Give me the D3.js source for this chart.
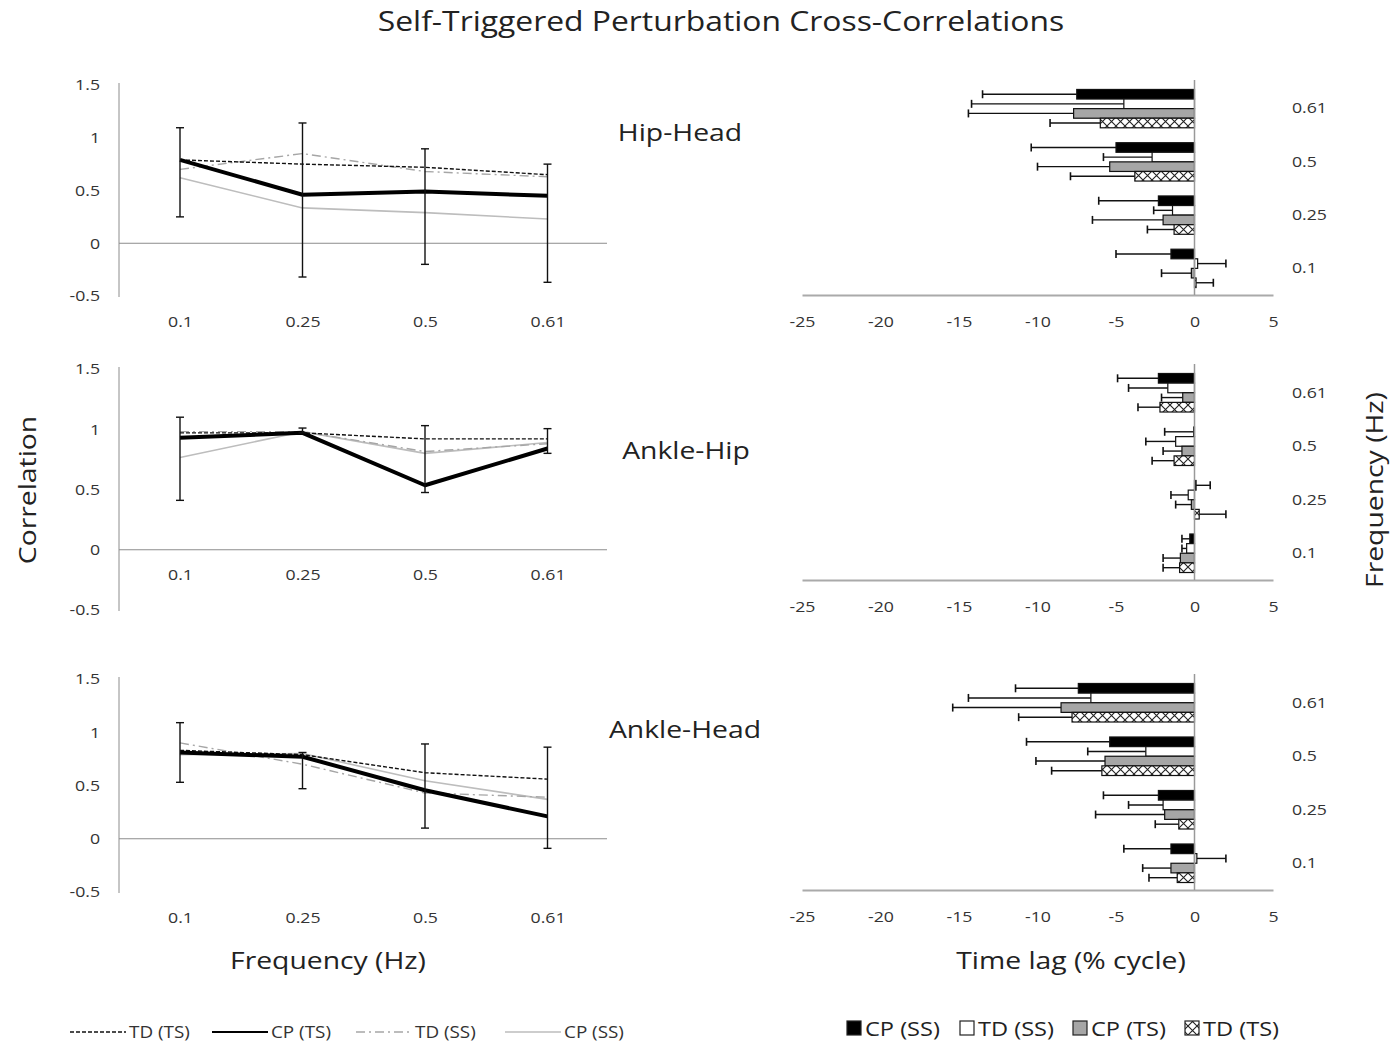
<!DOCTYPE html>
<html>
<head>
<meta charset="utf-8">
<script src="https://cdn.jsdelivr.net/npm/d3@7"></script>
<style>
  body { margin: 0; background: #fff; }
  svg { display: block; font-family: "Open Sans", Lato, "Liberation Sans", sans-serif; }
</style>
</head>
<body>
<svg id="chart" width="1393" height="1047"></svg>
<script>
// ---------- DATA ----------
const freqCats = ["0.1", "0.25", "0.5", "0.61"];
const corrTicks = [-0.5, 0, 0.5, 1, 1.5];
const lagTicks = [-25, -20, -15, -10, -5, 0, 5];
const pairNames = ["Hip-Head", "Ankle-Hip", "Ankle-Head"];
const lineSeriesNames = ["TD (TS)", "CP (TS)", "TD (SS)", "CP (SS)"];
const barSeriesNames = ["CP (SS)", "TD (SS)", "CP (TS)", "TD (TS)"];

// Correlations (line charts), per frequency 0.1, 0.25, 0.5, 0.61
const hipHeadTDTS = [0.79, 0.75, 0.72, 0.65];
const hipHeadCPTS = [0.79, 0.46, 0.49, 0.45];
const hipHeadTDSS = [0.70, 0.85, 0.68, 0.63];
const hipHeadCPSS = [0.62, 0.335, 0.29, 0.23];
const hipHeadErrHi = [1.095, 1.14, 0.895, 0.75];
const hipHeadErrLo = [0.25, -0.32, -0.2, -0.37];

const ankleHipTDTS = [0.97, 0.97, 0.92, 0.92];
const ankleHipCPTS = [0.93, 0.97, 0.535, 0.84];
const ankleHipTDSS = [0.98, 0.98, 0.815, 0.88];
const ankleHipCPSS = [0.765, 0.98, 0.80, 0.89];
const ankleHipErrHi = [1.10, 1.01, 1.03, 1.005];
const ankleHipErrLo = [0.41, 0.97, 0.475, 0.80];

const ankleHeadTDTS = [0.83, 0.79, 0.62, 0.56];
const ankleHeadCPTS = [0.81, 0.77, 0.455, 0.21];
const ankleHeadTDSS = [0.90, 0.70, 0.43, 0.39];
const ankleHeadCPSS = [0.79, 0.80, 0.545, 0.37];
const ankleHeadErrHi = [1.09, 0.81, 0.89, 0.86];
const ankleHeadErrLo = [0.53, 0.47, 0.10, -0.09];

// Time lags (bar charts, % cycle), per frequency 0.1, 0.25, 0.5, 0.61
const hipHeadLagCPSS = [-1.5, -2.3, -5.0, -7.5];
const hipHeadLagTDSS = [0.2, -1.4, -2.7, -4.5];
const hipHeadLagCPTS = [-0.2, -2.0, -5.4, -7.7];
const hipHeadLagTDTS = [0.1, -1.3, -3.8, -6.0];
const hipHeadLagErrCPSS = [3.5, 3.8, 5.4, 6.0];
const hipHeadLagErrTDSS = [1.8, 1.2, 3.1, 9.7];
const hipHeadLagErrCPTS = [1.9, 4.5, 4.6, 6.7];
const hipHeadLagErrTDTS = [1.1, 1.7, 4.1, 3.2];

const ankleHipLagCPSS = [-0.3, 0.1, -0.05, -2.3];
const ankleHipLagTDSS = [-0.5, -0.4, -1.2, -1.7];
const ankleHipLagCPTS = [-0.9, -0.2, -0.8, -0.75];
const ankleHipLagTDTS = [-0.95, 0.3, -1.3, -2.2];
const ankleHipLagErrCPSS = [0.5, 0.9, 1.85, 2.6];
const ankleHipLagErrTDSS = [0.3, 1.1, 1.9, 2.5];
const ankleHipLagErrCPTS = [1.1, 1.0, 1.2, 1.35];
const ankleHipLagErrTDTS = [1.05, 1.7, 1.4, 1.4];

const ankleHeadLagCPSS = [-1.5, -2.3, -5.4, -7.4];
const ankleHeadLagTDSS = [0.15, -2.0, -3.1, -6.6];
const ankleHeadLagCPTS = [-1.5, -1.9, -5.7, -8.5];
const ankleHeadLagTDTS = [-1.1, -1.0, -5.9, -7.8];
const ankleHeadLagErrCPSS = [3.0, 3.5, 5.3, 4.0];
const ankleHeadLagErrTDSS = [1.85, 2.2, 3.7, 7.8];
const ankleHeadLagErrCPTS = [1.8, 4.4, 4.4, 6.9];
const ankleHeadLagErrTDTS = [1.8, 1.5, 3.2, 3.4];

// ---------- ASSEMBLY ----------
const lineData = [
  { lines: [hipHeadTDTS, hipHeadCPTS, hipHeadTDSS, hipHeadCPSS], hi: hipHeadErrHi, lo: hipHeadErrLo },
  { lines: [ankleHipTDTS, ankleHipCPTS, ankleHipTDSS, ankleHipCPSS], hi: ankleHipErrHi, lo: ankleHipErrLo },
  { lines: [ankleHeadTDTS, ankleHeadCPTS, ankleHeadTDSS, ankleHeadCPSS], hi: ankleHeadErrHi, lo: ankleHeadErrLo }
];
const barData = [
  { vals: [hipHeadLagCPSS, hipHeadLagTDSS, hipHeadLagCPTS, hipHeadLagTDTS],
    errs: [hipHeadLagErrCPSS, hipHeadLagErrTDSS, hipHeadLagErrCPTS, hipHeadLagErrTDTS] },
  { vals: [ankleHipLagCPSS, ankleHipLagTDSS, ankleHipLagCPTS, ankleHipLagTDTS],
    errs: [ankleHipLagErrCPSS, ankleHipLagErrTDSS, ankleHipLagErrCPTS, ankleHipLagErrTDTS] },
  { vals: [ankleHeadLagCPSS, ankleHeadLagTDSS, ankleHeadLagCPTS, ankleHeadLagTDTS],
    errs: [ankleHeadLagErrCPSS, ankleHeadLagErrTDSS, ankleHeadLagErrCPTS, ankleHeadLagErrTDTS] }
];

// ---------- LAYOUT / STYLE ----------
const svg = d3.select("#chart");
const textCol = "#333";
const axisCol = "#8c8c8c";
const FONT = "'Open Sans', Lato, sans-serif";
const SX = 1.18; // horizontal text stretch to match the source typeface width
const plain = d => String(d);

const defs = svg.append("defs");
const pat = defs.append("pattern").attr("id", "hatch")
  .attr("patternUnits", "userSpaceOnUse").attr("width", 9).attr("height", 9);
pat.append("rect").attr("width", 9).attr("height", 9).attr("fill", "#fff");
pat.append("path").attr("d", "M0,0L9,9M9,0L0,9").attr("stroke", "#222").attr("stroke-width", 1.1);

const barFills = ["#000", "#fff", "#a6a6a6", "url(#hatch)"];
const lineStyles = [
  { color: "#111", width: 1.4, dash: "4,2" },
  { color: "#000", width: 4, dash: null },
  { color: "#a6a6a6", width: 1.4, dash: "9,4,2,4" },
  { color: "#bdbdbd", width: 1.6, dash: null }
];

svg.append("rect").attr("width", 1393).attr("height", 1047).attr("fill", "#fff");

// Title
svg.append("text").attr("x", 721).attr("y", 31).attr("text-anchor", "middle")
  .attr("font-size", 27).attr("fill", "#222")
  .text("Self-Triggered Perturbation Cross-Correlations");

// ---------- LINE CHARTS ----------
const leftPanels = [
  { top: 85, bottom: 296, xLabAtZero: false, pairX: 680, pairY: 133 },
  { top: 369, bottom: 610, xLabAtZero: true, pairX: 686, pairY: 451 },
  { top: 679, bottom: 892, xLabAtZero: false, pairX: 685, pairY: 730 }
];
const xL = d3.scalePoint().domain(freqCats).range([180, 547.5]);

leftPanels.forEach((p, i) => {
  const g = svg.append("g");
  const y = d3.scaleLinear().domain([-0.5, 1.5]).range([p.bottom, p.top]);
  const d = lineData[i];

  // y axis
  const ya = g.append("g").attr("transform", "translate(119,0)")
    .call(d3.axisLeft(y).tickValues(corrTicks).tickFormat(plain).tickSize(0).tickPadding(19).tickSizeOuter(0));
  ya.select(".domain").attr("stroke", axisCol).attr("d", `M0,${p.top - 2}V${p.bottom + 1}`);
  ya.selectAll("text").attr("font-size", 15).attr("fill", textCol).attr("font-family", FONT);

  // zero line
  g.append("line").attr("x1", 119).attr("x2", 607).attr("y1", y(0)).attr("y2", y(0))
    .attr("stroke", axisCol).attr("stroke-width", 1);

  // x labels
  const xY = p.xLabAtZero ? y(0) : p.bottom;
  const xa = g.append("g").attr("transform", `translate(0,${xY})`)
    .call(d3.axisBottom(xL).tickSize(0).tickPadding(20));
  xa.select(".domain").remove();
  xa.selectAll("text").attr("font-size", 15).attr("fill", textCol).attr("font-family", FONT);

  // lines (draw grey first, black last)
  const order = [3, 2, 0, 1];
  order.forEach(si => {
    const st = lineStyles[si];
    const ln = d3.line().x((v, k) => xL(freqCats[k])).y(v => y(v));
    g.append("path").datum(d.lines[si]).attr("d", ln)
      .attr("fill", "none").attr("stroke", st.color).attr("stroke-width", st.width)
      .attr("stroke-dasharray", st.dash).attr("stroke-linejoin", "round");
  });

  // error bars
  freqCats.forEach((c, k) => {
    const x = xL(c);
    g.append("line").attr("x1", x).attr("x2", x).attr("y1", y(d.hi[k])).attr("y2", y(d.lo[k]))
      .attr("stroke", "#111").attr("stroke-width", 1.4);
    [d.hi[k], d.lo[k]].forEach(v => {
      g.append("line").attr("x1", x - 4).attr("x2", x + 4).attr("y1", y(v)).attr("y2", y(v))
        .attr("stroke", "#111").attr("stroke-width", 1.4);
    });
  });

  // pair label
  g.append("text").attr("x", p.pairX).attr("y", p.pairY + 8).attr("text-anchor", "middle")
    .attr("font-size", 24).attr("fill", "#222").text(pairNames[i]);
});

// ---------- BAR CHARTS ----------
const rightPanels = [
  { top: 82, bottom: 295 },
  { top: 366, bottom: 580 },
  { top: 676, bottom: 890 }
];
const xR = d3.scaleLinear().domain([-25, 5]).range([802, 1273]);
const catsTopDown = freqCats.slice().reverse();

rightPanels.forEach((p, i) => {
  const g = svg.append("g");
  const yb = d3.scaleBand().domain(catsTopDown).range([p.top, p.bottom]).paddingInner(0.28).paddingOuter(0.14);
  const ys = d3.scaleBand().domain(d3.range(4)).range([0, yb.bandwidth()]);
  const d = barData[i];

  // x axis
  const xa = g.append("g").attr("transform", `translate(0,${p.bottom})`)
    .call(d3.axisBottom(xR).tickValues(lagTicks).tickFormat(plain).tickSize(0).tickPadding(21).tickSizeOuter(0));
  xa.select(".domain").attr("stroke", "#aaa").attr("stroke-width", 2);
  xa.selectAll("text").attr("font-size", 15).attr("fill", textCol).attr("font-family", FONT);

  // category labels
  const ca = g.append("g").attr("transform", `translate(1273,0)`)
    .call(d3.axisRight(yb).tickSize(0).tickPadding(19));
  ca.select(".domain").remove();
  ca.selectAll("text").attr("font-size", 15).attr("fill", textCol).attr("font-family", FONT);

  // bars
  freqCats.forEach((c, k) => {
    d.vals.forEach((arr, si) => {
      const v = arr[k];
      const e = d.errs[si][k];
      const y0 = yb(c) + ys(si);
      const h = ys.bandwidth();
      const xa0 = Math.min(xR(0), xR(v)), w = Math.abs(xR(v) - xR(0));
      const ye = y0 + h / 2;
      const vEnd = v >= 0 ? v + e : v - e;
      g.append("line").attr("x1", xR(v)).attr("x2", xR(vEnd)).attr("y1", ye).attr("y2", ye)
        .attr("stroke", "#111").attr("stroke-width", 1.4);
      g.append("line").attr("x1", xR(vEnd)).attr("x2", xR(vEnd)).attr("y1", ye - 4).attr("y2", ye + 4)
        .attr("stroke", "#111").attr("stroke-width", 1.6);
      g.append("rect").attr("x", xa0).attr("y", y0).attr("width", w).attr("height", h)
        .attr("fill", barFills[si]).attr("stroke", "#111").attr("stroke-width", 1.2);
    });
  });

  // zero vertical axis
  g.append("line").attr("x1", xR(0)).attr("x2", xR(0)).attr("y1", p.top - 2).attr("y2", p.bottom)
    .attr("stroke", "#999").attr("stroke-width", 1.5);
});

// ---------- AXIS TITLES ----------
svg.append("text").attr("transform", "translate(36,490) rotate(-90)").attr("text-anchor", "middle")
  .attr("font-size", 24).attr("fill", "#222").text("Correlation");
svg.append("text").attr("x", 328).attr("y", 969).attr("text-anchor", "middle")
  .attr("font-size", 24).attr("fill", "#222").text("Frequency (Hz)");
svg.append("text").attr("x", 1071).attr("y", 969).attr("text-anchor", "middle")
  .attr("font-size", 24).attr("fill", "#222").text("Time lag (% cycle)");
svg.append("text").attr("transform", "translate(1383,490) rotate(-90)").attr("text-anchor", "middle")
  .attr("font-size", 24).attr("fill", "#222").text("Frequency (Hz)");

// ---------- LEGENDS ----------
const lineLegX = [70, 212, 356, 505];
lineSeriesNames.forEach((n, i) => {
  const st = lineStyles[i];
  const x0 = lineLegX[i];
  svg.append("line").attr("x1", x0).attr("x2", x0 + 56).attr("y1", 1032).attr("y2", 1032)
    .attr("stroke", st.color).attr("stroke-width", i === 1 ? 2 : 1.4).attr("stroke-dasharray", st.dash);
  svg.append("text").attr("x", x0 + 59).attr("y", 1038).attr("font-size", 16).attr("fill", textCol).text(n);
});

const barLegX = [847, 960, 1073, 1185];
barSeriesNames.forEach((n, i) => {
  const x0 = barLegX[i];
  svg.append("rect").attr("x", x0).attr("y", 1021).attr("width", 14).attr("height", 14)
    .attr("fill", barFills[i]).attr("stroke", "#222").attr("stroke-width", 1.2);
  svg.append("text").attr("x", x0 + 18).attr("y", 1036).attr("font-size", 20).attr("fill", "#222").text(n);
});

// ---------- horizontal stretch of all text (keeps anchor positions) ----------
svg.selectAll("text").each(function () {
  const t = d3.select(this);
  const x = +(t.attr("x") || 0);
  t.attr("x", x / SX).attr("transform", ((t.attr("transform") || "") + ` scale(${SX},1)`).trim());
});
</script>
</body>
</html>
